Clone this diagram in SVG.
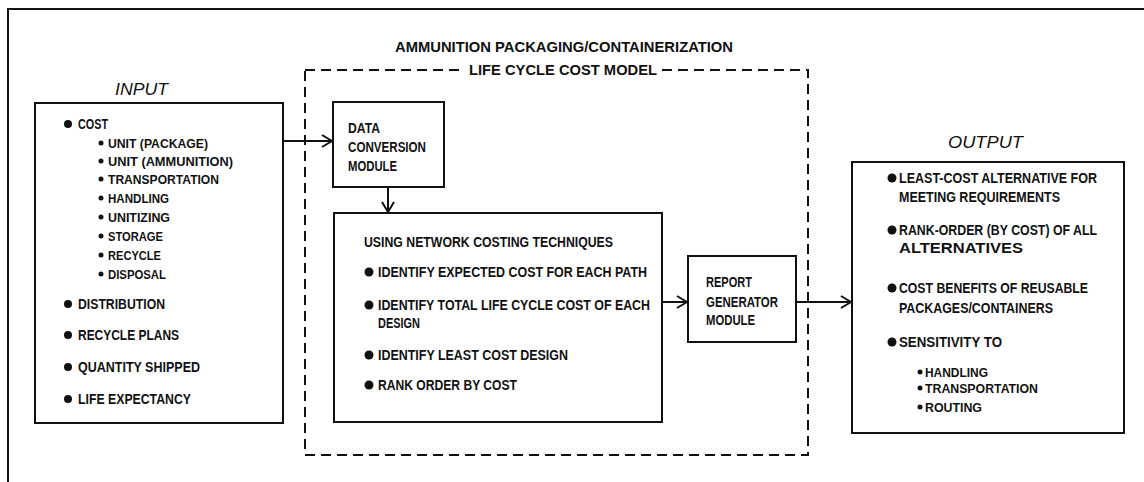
<svg xmlns="http://www.w3.org/2000/svg" width="1144" height="482" viewBox="0 0 1144 482">
<defs>
<style>
text{font-family:"Liberation Sans",Arial,sans-serif;font-weight:bold;fill:#111;}
.m{font-size:14px;}
.s{font-size:13px;}
.t{font-size:15px;}
.lab{font-size:16px;font-weight:normal;font-style:italic;}
.box{fill:none;stroke:#111;stroke-width:2;}
.dash{fill:none;stroke:#111;stroke-width:2;stroke-dasharray:10 6;}
.ln{fill:none;stroke:#111;stroke-width:2;}
.b{fill:#111;}
</style>
<marker id="ah" viewBox="0 0 12 14" refX="11" refY="7" markerWidth="12" markerHeight="14" markerUnits="userSpaceOnUse" orient="auto">
<path d="M1,1 L11,7 L1,13" fill="none" stroke="#111" stroke-width="2"/>
</marker>
</defs>
<rect width="1144" height="482" fill="#fff"/>
<g id="frame">
<path class="ln" d="M8,482 L8,9 L1144,9"/>
</g>
<g id="title">
<text class="t" x="395" y="52" textLength="338" lengthAdjust="spacingAndGlyphs">AMMUNITION PACKAGING/CONTAINERIZATION</text>
</g>
<g id="model">
<path class="dash" d="M305,70 L464,70"/>
<path class="dash" d="M662,70 L808,70 L808,455 L305,455 L305,70"/>
<text class="t" x="469" y="75" textLength="188" lengthAdjust="spacingAndGlyphs">LIFE CYCLE COST MODEL</text>
</g>
<g id="input">
<text class="lab" x="115" y="95" textLength="53" lengthAdjust="spacingAndGlyphs">INPUT</text>
<rect class="box" x="35" y="103" width="248" height="320"/>
<circle class="b" cx="68" cy="124" r="4"/>
<text class="m" x="78" y="129" textLength="30" lengthAdjust="spacingAndGlyphs">COST</text>
<circle class="b" cx="101" cy="143" r="2.5"/>
<text class="s" x="108" y="147.5" textLength="100" lengthAdjust="spacingAndGlyphs">UNIT (PACKAGE)</text>
<circle class="b" cx="101" cy="161" r="2.5"/>
<text class="s" x="108" y="165.5" textLength="125" lengthAdjust="spacingAndGlyphs">UNIT (AMMUNITION)</text>
<circle class="b" cx="101" cy="179" r="2.5"/>
<text class="s" x="108" y="183.5" textLength="111" lengthAdjust="spacingAndGlyphs">TRANSPORTATION</text>
<circle class="b" cx="101" cy="198" r="2.5"/>
<text class="s" x="108" y="202.5" textLength="61" lengthAdjust="spacingAndGlyphs">HANDLING</text>
<circle class="b" cx="101" cy="217" r="2.5"/>
<text class="s" x="108" y="221.5" textLength="62" lengthAdjust="spacingAndGlyphs">UNITIZING</text>
<circle class="b" cx="101" cy="236" r="2.5"/>
<text class="s" x="108" y="240.5" textLength="55" lengthAdjust="spacingAndGlyphs">STORAGE</text>
<circle class="b" cx="101" cy="255" r="2.5"/>
<text class="s" x="108" y="259.5" textLength="53" lengthAdjust="spacingAndGlyphs">RECYCLE</text>
<circle class="b" cx="101" cy="274" r="2.5"/>
<text class="s" x="108" y="278.5" textLength="58" lengthAdjust="spacingAndGlyphs">DISPOSAL</text>
<circle class="b" cx="68" cy="304" r="4"/>
<text class="m" x="78" y="309" textLength="87" lengthAdjust="spacingAndGlyphs">DISTRIBUTION</text>
<circle class="b" cx="68" cy="335" r="4"/>
<text class="m" x="78" y="340" textLength="101" lengthAdjust="spacingAndGlyphs">RECYCLE PLANS</text>
<circle class="b" cx="68" cy="367" r="4"/>
<text class="m" x="78" y="372" textLength="122" lengthAdjust="spacingAndGlyphs">QUANTITY SHIPPED</text>
<circle class="b" cx="68" cy="399" r="4"/>
<text class="m" x="78" y="404" textLength="113" lengthAdjust="spacingAndGlyphs">LIFE EXPECTANCY</text>
</g>
<g id="data-conversion">
<rect class="box" x="333" y="102" width="111" height="85"/>
<text class="m" x="348" y="133" textLength="32" lengthAdjust="spacingAndGlyphs">DATA</text>
<text class="m" x="348" y="152" textLength="78" lengthAdjust="spacingAndGlyphs">CONVERSION</text>
<text class="m" x="348" y="171" textLength="49" lengthAdjust="spacingAndGlyphs">MODULE</text>
</g>
<g id="network-costing">
<rect class="box" x="334" y="213" width="328" height="209"/>
<text class="m" x="364" y="247" textLength="249" lengthAdjust="spacingAndGlyphs">USING NETWORK COSTING TECHNIQUES</text>
<circle class="b" cx="369" cy="272" r="4.5"/>
<text class="m" x="378" y="277" textLength="269" lengthAdjust="spacingAndGlyphs">IDENTIFY EXPECTED COST FOR EACH PATH</text>
<circle class="b" cx="369" cy="305" r="4.5"/>
<text class="m" x="378" y="310" textLength="272" lengthAdjust="spacingAndGlyphs">IDENTIFY TOTAL LIFE CYCLE COST OF EACH</text>
<text class="m" x="378" y="328" textLength="42" lengthAdjust="spacingAndGlyphs">DESIGN</text>
<circle class="b" cx="369" cy="355" r="4.5"/>
<text class="m" x="378" y="360" textLength="190" lengthAdjust="spacingAndGlyphs">IDENTIFY LEAST COST DESIGN</text>
<circle class="b" cx="369" cy="385" r="4.5"/>
<text class="m" x="378" y="390" textLength="139" lengthAdjust="spacingAndGlyphs">RANK ORDER BY COST</text>
</g>
<g id="report-generator">
<rect class="box" x="688" y="256" width="108" height="86"/>
<text class="m" x="706" y="287" textLength="46" lengthAdjust="spacingAndGlyphs">REPORT</text>
<text class="m" x="706" y="307" textLength="72" lengthAdjust="spacingAndGlyphs">GENERATOR</text>
<text class="m" x="706" y="325" textLength="49" lengthAdjust="spacingAndGlyphs">MODULE</text>
</g>
<g id="output">
<text class="lab" x="948" y="148" textLength="75" lengthAdjust="spacingAndGlyphs">OUTPUT</text>
<rect class="box" x="852" y="162" width="272" height="271"/>
<circle class="b" cx="892" cy="178" r="4.5"/>
<text class="m" x="899" y="183" textLength="198" lengthAdjust="spacingAndGlyphs">LEAST-COST ALTERNATIVE FOR</text>
<text class="m" x="899" y="202" textLength="161" lengthAdjust="spacingAndGlyphs">MEETING REQUIREMENTS</text>
<circle class="b" cx="892" cy="230" r="4.5"/>
<text class="m" x="899" y="235" textLength="198" lengthAdjust="spacingAndGlyphs">RANK-ORDER (BY COST) OF ALL</text>
<text class="m" x="899" y="253" textLength="124" lengthAdjust="spacingAndGlyphs">ALTERNATIVES</text>
<circle class="b" cx="892" cy="288" r="4.5"/>
<text class="m" x="899" y="293" textLength="189" lengthAdjust="spacingAndGlyphs">COST BENEFITS OF REUSABLE</text>
<text class="m" x="899" y="313" textLength="154" lengthAdjust="spacingAndGlyphs">PACKAGES/CONTAINERS</text>
<circle class="b" cx="892" cy="342" r="4.5"/>
<text class="m" x="899" y="347" textLength="103" lengthAdjust="spacingAndGlyphs">SENSITIVITY TO</text>
<circle class="b" cx="920" cy="372" r="2.5"/>
<text class="s" x="925" y="376.5" textLength="63" lengthAdjust="spacingAndGlyphs">HANDLING</text>
<circle class="b" cx="920" cy="388" r="2.5"/>
<text class="s" x="925" y="392.5" textLength="113" lengthAdjust="spacingAndGlyphs">TRANSPORTATION</text>
<circle class="b" cx="920" cy="407" r="2.5"/>
<text class="s" x="925" y="411.5" textLength="57" lengthAdjust="spacingAndGlyphs">ROUTING</text>
</g>
<g id="connectors">
<path class="ln" d="M283,141 L332,141" marker-end="url(#ah)"/>
<path class="ln" d="M388,187 L388,212" marker-end="url(#ah)"/>
<path class="ln" d="M662,302 L687,302" marker-end="url(#ah)"/>
<path class="ln" d="M796,302 L851,302" marker-end="url(#ah)"/>
</g>
</svg>
